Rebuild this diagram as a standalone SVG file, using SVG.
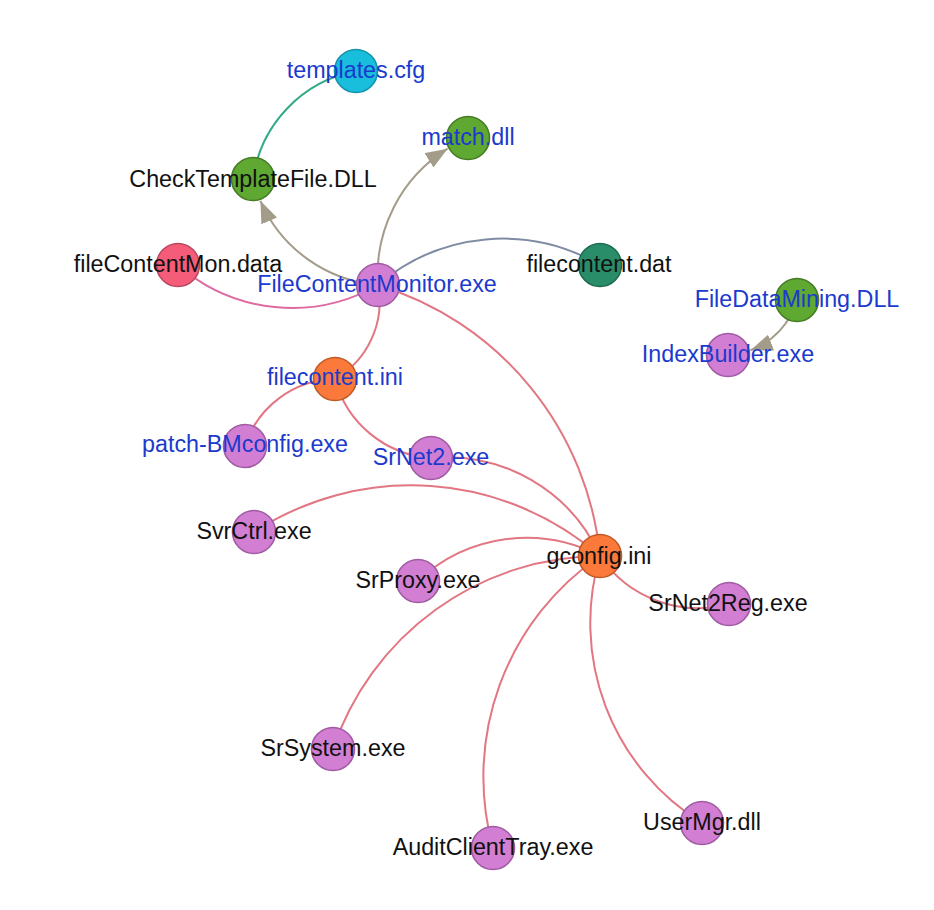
<svg xmlns="http://www.w3.org/2000/svg" width="934" height="910" viewBox="0 0 934 910">
<style>
  .edge { fill: none; stroke-width: 2; }
  .red { stroke: #e27682; }
  .pink { stroke: #de6aa0; }
  .slate { stroke: #7f8ca3; }
  .teal { stroke: #34a98a; }
  .dep { stroke: #a39c89; }
  circle { stroke-width: 1.6; }
  .purple { fill: #d27fd3; stroke: #a05ba3; }
  .orange { fill: #fb7a3b; stroke: #c25a28; }
  .green { fill: #5fa832; stroke: #467c25; }
  .rose { fill: #f45c7a; stroke: #b94860; }
  .sea { fill: #2a8d6a; stroke: #1f6b51; }
  .cyan { fill: #18bedc; stroke: #1493aa; }
  text { font-family: "Liberation Sans", Arial, Helvetica, sans-serif; font-size: 23.3px; text-anchor: middle; }
  .blue { fill: #1b3acd; }
  .black { fill: #111111; }
</style>
<defs>
  <marker id="arrow" markerUnits="userSpaceOnUse" viewBox="0 0 22 17" markerWidth="22" markerHeight="17" refX="22" refY="8.5" orient="auto">
    <path d="M0,0 L22,8.5 L0,17 Z" fill="#a39c89"/>
  </marker>
</defs>
<rect width="934" height="910" fill="#ffffff"/>
<g id="connectors">
  <path class="edge teal" d="M253,179 A128,128 0 0 1 356,71"/>
  <path class="edge dep" d="M378,285 A141,141 0 0 1 260.4,200.8" marker-end="url(#arrow)"/>
  <path class="edge dep" d="M378,285 A148.2,148.2 0 0 1 447.6,148.7" marker-end="url(#arrow)"/>
  <path class="edge slate" d="M378,285 A191.7,191.7 0 0 1 600,265"/>
  <path class="edge pink" d="M378,285 A172.9,172.9 0 0 1 178,265"/>
  <path class="edge red" d="M378,285 A88.9,88.9 0 0 1 335,379"/>
  <path class="edge red" d="M378,285 A315,315 0 0 1 600,556"/>
  <path class="edge red" d="M245,446 A96.5,96.5 0 0 1 335,379"/>
  <path class="edge red" d="M431,458 A106.9,106.9 0 0 1 335,379"/>
  <path class="edge red" d="M431,458 A168,168 0 0 1 600,556"/>
  <path class="edge red" d="M254,532 A288,288 0 0 1 600,556"/>
  <path class="edge red" d="M418,581 A158,158 0 0 1 600,556"/>
  <path class="edge red" d="M333,749 A283.4,283.4 0 0 1 600,556"/>
  <path class="edge red" d="M493,848 A267.5,267.5 0 0 1 600,556"/>
  <path class="edge red" d="M702,823 A235,235 0 0 1 600,556"/>
  <path class="edge red" d="M729,604 A118.3,118.3 0 0 1 600,556"/>
  <path class="edge dep" d="M797,300 A75.9,75.9 0 0 1 750.5,350.3" marker-end="url(#arrow)"/>
</g>
<g id="node-templates-cfg"><circle class="cyan" cx="356" cy="71" r="21.5"/><text class="blue" x="356" y="78">templates.cfg</text></g>
<g id="node-match-dll"><circle class="green" cx="468" cy="138" r="21.5"/><text class="blue" x="468" y="145">match.dll</text></g>
<g id="node-CheckTemplateFile-DLL"><circle class="green" cx="253" cy="179" r="21.5"/><text class="black" x="253" y="187">CheckTemplateFile.DLL</text></g>
<g id="node-fileContentMon-data"><circle class="rose" cx="178" cy="265" r="21.5"/><text class="black" x="178" y="272">fileContentMon.data</text></g>
<g id="node-filecontent-dat"><circle class="sea" cx="600" cy="265" r="21.5"/><text class="black" x="599" y="272">filecontent.dat</text></g>
<g id="node-FileContentMonitor-exe"><circle class="purple" cx="378" cy="285" r="21.5"/><text class="blue" x="377" y="292">FileContentMonitor.exe</text></g>
<g id="node-FileDataMining-DLL"><circle class="green" cx="797" cy="300" r="21.5"/><text class="blue" x="797" y="307">FileDataMining.DLL</text></g>
<g id="node-IndexBuilder-exe"><circle class="purple" cx="728" cy="355" r="21.5"/><text class="blue" x="728" y="362">IndexBuilder.exe</text></g>
<g id="node-filecontent-ini"><circle class="orange" cx="335" cy="379" r="21.5"/><text class="blue" x="335" y="385">filecontent.ini</text></g>
<g id="node-patch-BMconfig-exe"><circle class="purple" cx="245" cy="446" r="21.5"/><text class="blue" x="245" y="452">patch-BMconfig.exe</text></g>
<g id="node-SrNet2-exe"><circle class="purple" cx="431" cy="458" r="21.5"/><text class="blue" x="431" y="465">SrNet2.exe</text></g>
<g id="node-SvrCtrl-exe"><circle class="purple" cx="254" cy="532" r="21.5"/><text class="black" x="254" y="539">SvrCtrl.exe</text></g>
<g id="node-gconfig-ini"><circle class="orange" cx="600" cy="556" r="21.5"/><text class="black" x="599" y="564">gconfig.ini</text></g>
<g id="node-SrProxy-exe"><circle class="purple" cx="418" cy="581" r="21.5"/><text class="black" x="418" y="588">SrProxy.exe</text></g>
<g id="node-SrNet2Reg-exe"><circle class="purple" cx="729" cy="604" r="21.5"/><text class="black" x="728" y="611">SrNet2Reg.exe</text></g>
<g id="node-SrSystem-exe"><circle class="purple" cx="333" cy="749" r="21.5"/><text class="black" x="333" y="756">SrSystem.exe</text></g>
<g id="node-UserMgr-dll"><circle class="purple" cx="702" cy="823" r="21.5"/><text class="black" x="702" y="830">UserMgr.dll</text></g>
<g id="node-AuditClientTray-exe"><circle class="purple" cx="493" cy="848" r="21.5"/><text class="black" x="493" y="855">AuditClientTray.exe</text></g>
</svg>
